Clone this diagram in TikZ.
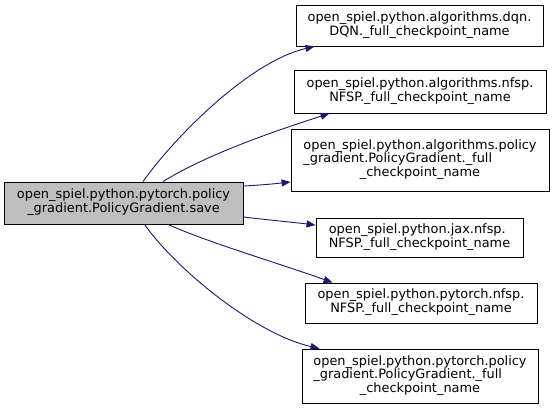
\documentclass[tikz,border=0pt]{standalone}
\usepackage{fontspec}
\setmainfont{DejaVu Sans}
\usetikzlibrary{arrows.meta}
\definecolor{edgeblue}{HTML}{191970}
\definecolor{srcgray}{HTML}{BFBFBF}
\newcommand\dxlines[2]{\begin{tabular}{@{}l@{}}#1\\\multicolumn{1}{@{}c@{}}{#2}\end{tabular}}
\begin{document}
\begin{tikzpicture}[x=1pt,y=-1pt,
  box/.style={draw=black, line width=0.9pt, fill=white, inner sep=0pt, font=\fontsize{12.9}{13.4}\selectfont},
  edge/.style={draw=edgeblue, line width=0.9pt, -{Triangle[length=9pt,width=7pt]}}]
\useasboundingbox (0,0) rectangle (555,410);
\node[box, fill=srcgray, minimum width=239pt, minimum height=42pt] (src) at (123.5,203)
  {\dxlines{open\_spiel.python.pytorch.policy}{\_gradient.PolicyGradient.save}};
\node[box, minimum width=247pt, minimum height=41pt] (t1) at (419.5,25.5)
  {\dxlines{open\_spiel.python.algorithms.dqn.}{DQN.\_full\_checkpoint\_name}};
\node[box, minimum width=252pt, minimum height=43pt] (t2) at (420,91.5)
  {\dxlines{open\_spiel.python.algorithms.nfsp.}{NFSP.\_full\_checkpoint\_name}};
\node[box, minimum width=258pt, minimum height=62pt] (t3) at (420,160)
  {\dxlines{open\_spiel.python.algorithms.policy\\\_gradient.PolicyGradient.\_full}{\_checkpoint\_name}};
\node[box, minimum width=207pt, minimum height=39pt] (t4) at (419.5,237.5)
  {\dxlines{open\_spiel.python.jax.nfsp.}{NFSP.\_full\_checkpoint\_name}};
\node[box, minimum width=232pt, minimum height=40pt] (t5) at (421,303)
  {\dxlines{open\_spiel.python.pytorch.nfsp.}{NFSP.\_full\_checkpoint\_name}};
\node[box, minimum width=236pt, minimum height=54pt] (t6) at (420,376)
  {\dxlines{open\_spiel.python.pytorch.policy\\\_gradient.PolicyGradient.\_full}{\_checkpoint\_name}};
\draw[edge] ([xshift=19.5pt]src.north) .. controls +(32,-45) and +(-65,15) .. ([xshift=19pt]t1.south west);
\draw[edge] ([xshift=39.5pt]src.north) .. controls +(45,-28) and +(-50,16) .. ([xshift=36pt]t2.south west);
\draw[edge] ([yshift=17pt]src.east) .. controls +(18,-1) and +(-18,2) .. ([yshift=-22pt]t3.west);
\draw[edge] ([yshift=-14pt]src.east) .. controls +(25,3) and +(-25,-3) .. ([yshift=12.5pt]t4.west);
\draw[edge] ([xshift=44.5pt]src.south) .. controls +(40,18) and +(-50,-18) .. ([xshift=28pt]t5.north west);
\draw[edge] ([xshift=21pt]src.south) .. controls +(32,45) and +(-65,-15) .. ([xshift=18pt]t6.north west);
\end{tikzpicture}
\end{document}
